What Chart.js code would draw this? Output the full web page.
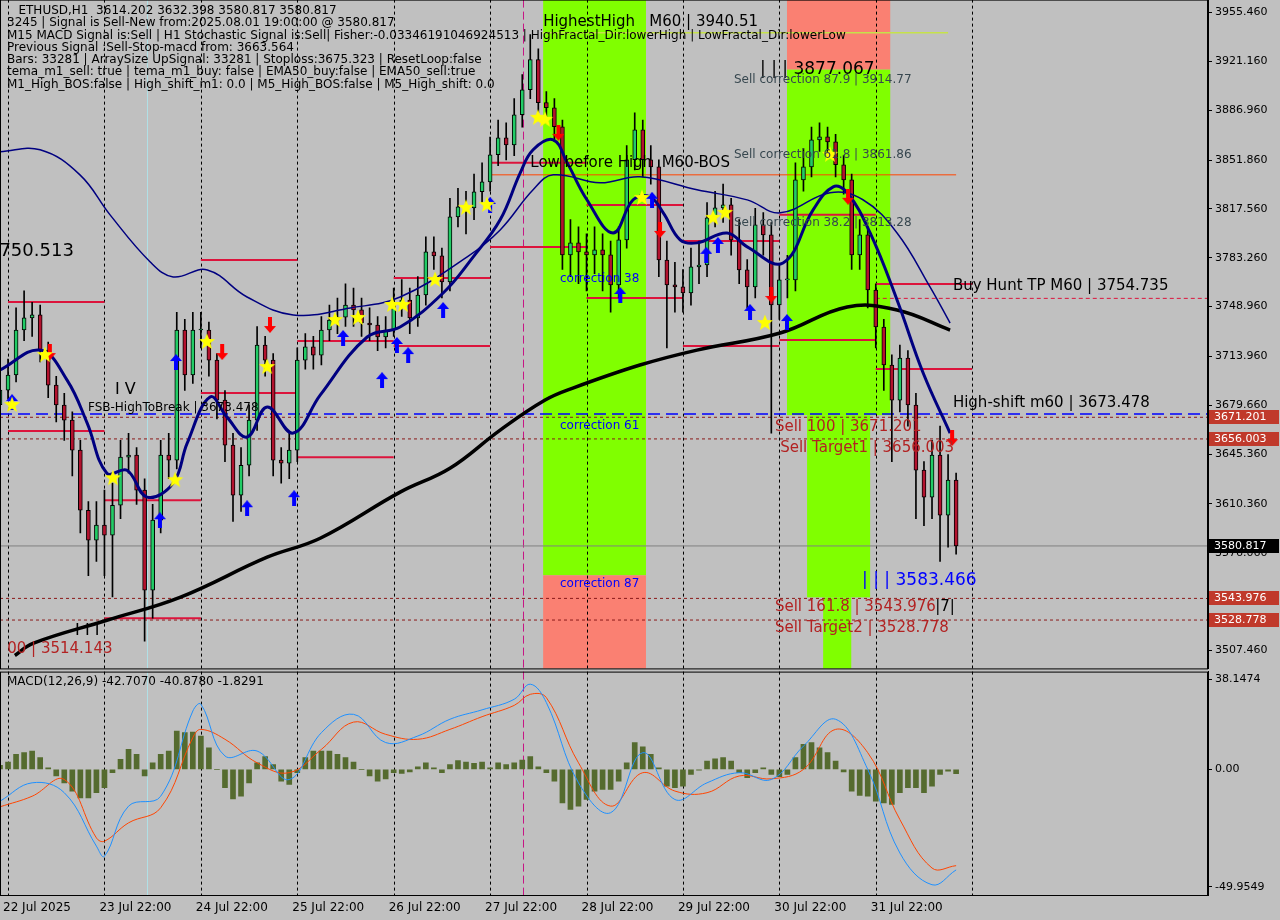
<!DOCTYPE html>
<html>
<head>
<meta charset="utf-8">
<script src="https://cdn.jsdelivr.net/npm/chart.js@4.4.1/dist/chart.umd.min.js"></script>
<style>
  html, body { margin: 0; padding: 0; background: #c0c0c0; }
  #wrap { position: relative; width: 1280px; height: 920px; overflow: hidden; }
  canvas { position: absolute; left: -5px; }
  #main { top: -10px; }
  #macd { top: 662px; }
  #head { position: absolute; left: 7px; top: 4px; font: 12px "DejaVu Sans", sans-serif; color: #000; line-height: 12.3px; white-space: pre; pointer-events: none; }
</style>
</head>
<body>
<div id="wrap">
  <canvas id="main" width="1285" height="688"></canvas>
  <canvas id="macd" width="1285" height="258"></canvas>
  <div id="head">   ETHUSD,H1  3614.202 3632.398 3580.817 3580.817
3245 | Signal is Sell-New from:2025.08.01 19:00:00 @ 3580.817
M15 MACD Signal is:Sell | H1 Stochastic Signal is:Sell| Fisher:-0.03346191046924513 | HighFractal_Dir:lowerHigh | LowFractal_Dir:lowerLow
Previous Signal :Sell-Stop-macd from: 3663.564
Bars: 33281 | ArraySize UpSignal: 33281 | Stoploss:3675.323 | ResetLoop:false
tema_m1_sell: true | tema_m1_buy: false | EMA50_buy:false | EMA50_sell:true
M1_High_BOS:false | High_shift_m1: 0.0 | M5_High_BOS:false | M5_High_shift: 0.0</div>
</div>
<script>
// ---- data (hours counted from 22 Jul 22:00, one bar = 2h) ----
const dayLabels = ['22 Jul 2025', '23 Jul 22:00', '24 Jul 22:00', '25 Jul 22:00', '26 Jul 22:00',
  '27 Jul 22:00', '28 Jul 22:00', '29 Jul 22:00', '30 Jul 22:00', '31 Jul 22:00'];
const dayHours = [0, 24, 48, 72, 96, 120, 144, 168, 192, 216, 240];

const closes = [3690.3, 3700.9, 3732.5, 3741.0, 3743.1, 3718.4, 3693.8, 3679.8, 3669.2, 3648.1,
  3605.9, 3584.8, 3595.4, 3588.3, 3609.4, 3643.2, 3644.6, 3620.0, 3549.7, 3598.9,
  3644.6, 3641.1, 3732.5, 3700.9, 3732.5, 3732.5, 3711.4, 3683.3, 3651.6, 3616.5,
  3637.5, 3669.2, 3722.0, 3711.4, 3641.1, 3639.0, 3648.1, 3711.4, 3720.6, 3714.9,
  3732.5, 3739.5, 3741.6, 3750.1, 3746.6, 3737.4, 3736.0, 3727.6, 3732.5, 3750.1,
  3753.6, 3741.0, 3757.1, 3787.4, 3784.6, 3766.3, 3812.0, 3819.0, 3818.3, 3829.6,
  3836.6, 3855.6, 3867.5, 3862.6, 3883.7, 3901.3, 3922.4, 3892.2, 3888.6, 3875.3,
  3785.3, 3793.7, 3787.4, 3785.3, 3788.8, 3785.3, 3764.2, 3795.8, 3852.1, 3873.2,
  3852.1, 3847.1, 3781.7, 3764.2, 3762.8, 3758.5, 3776.8, 3778.2, 3811.3, 3818.3,
  3820.4, 3795.8, 3774.7, 3762.8, 3806.3, 3799.3, 3750.1, 3767.7, 3767.7, 3838.0,
  3847.1, 3866.1, 3868.2, 3864.7, 3848.6, 3838.0, 3785.3, 3799.3, 3760.6, 3734.6,
  3707.9, 3683.3, 3712.8, 3679.8, 3634.1, 3615.1, 3644.6, 3602.4, 3627.0, 3580.8];
const highs = [3705, 3712, 3748, 3760, 3752, 3750, 3724, 3700, 3688, 3675,
  3655, 3612, 3612, 3620, 3625, 3655, 3660, 3650, 3628, 3610,
  3655, 3660, 3745, 3740, 3745, 3745, 3738, 3716, 3690, 3660,
  3650, 3680, 3735, 3728, 3716, 3650, 3660, 3720, 3730, 3728,
  3742, 3750, 3755, 3765, 3762, 3755, 3748, 3742, 3742, 3762,
  3768, 3762, 3770, 3798, 3798, 3790, 3825, 3832, 3830, 3842,
  3850, 3868, 3880, 3878, 3895, 3912, 3940, 3930, 3900, 3895,
  3880, 3810, 3805, 3800, 3805, 3800, 3795, 3805, 3862, 3885,
  3880, 3862, 3852, 3795, 3780, 3775, 3790, 3795, 3822, 3830,
  3835, 3825, 3810, 3782, 3818, 3815, 3808, 3778, 3785, 3850,
  3860, 3875, 3878, 3875, 3870, 3855, 3842, 3810, 3805, 3765,
  3740, 3715, 3722, 3718, 3688, 3640, 3655, 3665, 3645, 3632];
const lows = [3672, 3684, 3696, 3725, 3728, 3710, 3685, 3668, 3655, 3630,
  3590, 3560, 3570, 3560, 3545, 3600, 3632, 3610, 3514, 3530,
  3590, 3628, 3635, 3690, 3695, 3720, 3700, 3670, 3640, 3598,
  3605, 3630, 3662, 3700, 3630, 3625, 3628, 3640, 3705, 3705,
  3708, 3725, 3730, 3735, 3735, 3728, 3725, 3718, 3720, 3728,
  3742, 3730, 3735, 3750, 3775, 3755, 3760, 3805, 3800, 3810,
  3822, 3830, 3848, 3852, 3855, 3875, 3895, 3885, 3878, 3865,
  3775, 3770, 3765, 3760, 3772, 3760, 3745, 3755, 3790, 3845,
  3840, 3835, 3770, 3720, 3745, 3745, 3750, 3765, 3770, 3805,
  3808, 3785, 3765, 3748, 3755, 3785, 3660, 3740, 3755, 3760,
  3830, 3840, 3858, 3855, 3840, 3828, 3775, 3775, 3748, 3720,
  3690, 3640, 3675, 3665, 3600, 3595, 3600, 3570, 3580, 3575];
const firstOpen = 3680.0;

// moving averages, sampled (hour, price)
const fastH = [-2, 8, 14.7, 19.7, 24.6, 29.6, 34.6, 41.1, 44.6, 50.3, 54.5, 59.5, 64.5, 71, 77.7, 89.4, 97.6, 108.3, 115.8, 122.5,
  127.5, 130.7, 135.7, 139.2, 144.1, 150.6, 155.6, 159.8, 163.1, 167.3, 171.5, 179, 184, 192.9, 200.4, 205.4, 208.9, 214.6, 221.3, 227.8, 234.5];
const fastP = [3704.4, 3718.4, 3697.3, 3667.1, 3631.9, 3634.0, 3615.1, 3624.9, 3653.0, 3685.4, 3671.3, 3657.3, 3678.4, 3660.1, 3686.8, 3727.6, 3734.6, 3758.5, 3783.9, 3809.9,
  3842.9, 3859.1, 3866.1, 3849.9, 3824.0, 3800.7, 3824.0, 3826.1, 3814.8, 3795.8, 3793.7, 3800.7, 3790.9, 3779.6, 3816.9, 3833.1, 3828.9, 3800.7, 3753.6, 3702.3, 3660.1];
const slowH = [-2, 8, 17.9, 25.4, 35.4, 41.1, 49.6, 59.5, 71, 85.2, 97.6, 114.3, 122.5, 130.7, 135.7, 147.4, 157.3, 171.5, 184, 192.2, 204.6, 212.8, 221.3, 229.5, 234.5];
const slowP = [3857.7, 3859.1, 3841.5, 3813.4, 3780.3, 3769.8, 3774.7, 3755.7, 3743.1, 3748.0, 3755.7, 3783.9, 3802.8, 3831.0, 3841.5, 3835.9, 3840.1, 3831.0, 3823.9, 3814.8, 3828.9, 3824.0, 3800.7, 3762.8, 3737.4];
const ma200H = [1.7, 6.2, 24.6, 42.8, 64.5, 77.7, 97.6, 110, 122.5, 133.7, 140.6, 157.3, 171.5, 192.2, 208.9, 221.3, 234.5];
const ma200P = [3503.9, 3512.4, 3528.6, 3544.7, 3572.9, 3586.2, 3618.6, 3635.4, 3662.2, 3683.3, 3691.7, 3707.9, 3718.4, 3730.4, 3748.7, 3746.6, 3732.5];

// daily red levels
const lvlStart = [0, 0, 24, 24, 48, 48, 72, 72, 96, 96, 120, 120, 144, 144, 168, 168, 192, 192, 216, 216];
const lvlEnd = [24, 24, 48, 48, 72, 72, 96, 96, 120, 120, 144, 144, 168, 168, 192, 192, 216, 216, 240, 240];
const lvlPrice = [3752.2, 3661.5, 3613.0, 3530.0, 3781.7, 3688.2, 3643.2, 3724.8, 3769.1, 3721.3,
  3850.0, 3790.9, 3820.4, 3755.0, 3795.1, 3721.3, 3813.4, 3725.5, 3764.9, 3705.1];

// signal markers
const starH = [1, 9.2, 26.1, 41.6, 49.5, 64.5, 81.4, 87.1, 95.6, 98.3, 106.3, 114, 119.2, 131.9, 133.7, 157.8, 175.5, 178.5, 188.4, 204.6];
const starP = [3679.8, 3714.9, 3628.4, 3627.0, 3724.1, 3706.5, 3739.5, 3741.0, 3750.1, 3750.1, 3767.7, 3818.3, 3820.4, 3881.6, 3880.2, 3825.3, 3811.3, 3814.8, 3737.4, 3855.6];
const upH = [1, 37.8, 41.8, 59.5, 71.2, 83.4, 93.1, 96.8, 99.6, 108.3, 120, 152.4, 160.3, 173.8, 176.7, 184.7, 193.9];
const upP = [3681.9, 3598.9, 3710.0, 3607.3, 3614.4, 3726.9, 3697.3, 3722.0, 3714.9, 3746.6, 3820.4, 3757.1, 3824.0, 3785.3, 3792.3, 3745.2, 3738.1];
const downH = [10.4, 53.3, 65.2, 137, 162.3, 190, 209.1, 235];
const downP = [3717, 3717, 3736, 3871, 3802.8, 3757.1, 3826.1, 3656.6];

// MACD
const macdHist = [1.7, 3.1, 6.4, 7.1, 7.8, 5.0, 0.7, -2.8, -5.7, -9.2,
  -12.1, -12.1, -9.9, -7.8, -1.4, 4.3, 8.5, 6.4, -2.8, 2.8,
  6.4, 7.8, 16.3, 15.6, 15.9, 14.2, 9.2, 0, -7.8, -12.5,
  -11.4, -5.7, 2.8, 5.4, 2.1, -5.0, -6.4, -1.4, 5.0, 7.8,
  7.8, 7.8, 6.4, 5.0, 3.1, 0, -2.8, -5.0, -4.0, -1.4,
  -1.7, -1.1, 1.1, 2.8, 0.7, -1.4, 2.1, 3.8, 3.1, 2.6,
  3.1, 0.7, 2.8, 2.1, 2.8, 4.0, 5.4, 1.1, -1.4, -5.0,
  -14.2, -17.0, -15.6, -12.8, -9.2, -8.5, -8.5, -5.0, 2.8, 11.4,
  9.6, 6.4, 0.7, -7.1, -7.8, -7.1, -2.1, -0.3, 3.5, 4.5,
  5.0, 3.5, -1.4, -3.5, -1.4, 0.7, -2.1, -3.1, -2.1, 5.0,
  10.6, 11.4, 9.2, 7.1, 3.5, -1.1, -9.2, -11.1, -11.4, -13.5,
  -14.2, -14.9, -9.9, -7.8, -7.8, -9.9, -7.1, -2.1, -0.7, -1.8];
const macdH = [-2, 6, 14, 22, 24, 30, 38, 46, 48, 54, 62, 70, 78, 86, 94, 102, 110, 118, 126, 130,
  134, 142, 150, 158, 166, 174, 182, 190, 198, 206, 214, 222, 230, 236];
const macdLine = [-13.5, -5.7, -9.9, -32.6, -36.9, -15.6, -11.4, 24.8, 27.7, 5.7, 7.8, -4.3, 15.6, 23.4, 11.4, 14.2, 21.3, 25.3, 29.8, 36.2,
  28.4, -5.7, -18.4, 7.1, -12.8, -5.7, -1.4, -4.3, 9.9, 21.3, 0, -35.5, -49.0, -42.7];
const signalLine = [-15.9, -11.4, -4.3, -29.1, -30.5, -22.7, -16.3, 13.5, 17.0, 12.8, 2.8, -1.4, 8.5, 20.1, 14.9, 12.8, 17.0, 22.4, 27.2, 31.9,
  30.5, 2.8, -15.6, -1.4, -9.2, -9.9, -2.8, -4.0, 0, 17.0, 7.1, -21.3, -41.9, -40.9];

const priceTicks = [3955.460, 3921.160, 3886.960, 3851.860, 3817.560, 3783.260, 3748.960, 3713.960,
  3679.660, 3645.360, 3610.360, 3576.060, 3541.760, 3507.460];
const macdTicks = [38.1474, 0, -49.9549];

// ---- helpers ----
const barH = closes.map((c, i) => i * 2 - 2);
const opens = closes.map((c, i) => i === 0 ? firstOpen : closes[i - 1]);
const X_MIN = -2, X_MAX = 298.7;
const FONT = '"DejaVu Sans", sans-serif';

function pts(hs, vs) { return hs.map((h, i) => ({ x: h, y: vs[i] })); }

function makeStar() {
  const c = document.createElement('canvas'); c.width = c.height = 18;
  const g = c.getContext('2d');
  g.beginPath();
  for (let i = 0; i < 10; i++) {
    const r = i % 2 ? 3.6 : 8.5, a = -Math.PI / 2 + i * Math.PI / 5;
    g.lineTo(9 + r * Math.cos(a), 9 + r * Math.sin(a));
  }
  g.closePath(); g.fillStyle = '#ffff00'; g.fill();
  return c;
}
function makeArrow(color, up) {
  const c = document.createElement('canvas'); c.width = 12; c.height = 16;
  const g = c.getContext('2d');
  if (!up) { g.translate(0, 16); g.scale(1, -1); }
  g.fillStyle = color;
  g.beginPath();
  g.moveTo(6, 0); g.lineTo(12, 7); g.lineTo(8, 7); g.lineTo(8, 16); g.lineTo(4, 16); g.lineTo(4, 7); g.lineTo(0, 7);
  g.closePath(); g.fill();
  return c;
}

const fixedY = { afterFit(s) { s.width = 72; } };

// ---- main price chart ----
const levelSets = lvlPrice.map((p, i) => ({
  type: 'line', data: [{ x: lvlStart[i], y: p }, { x: lvlEnd[i], y: p }],
  borderColor: '#dc143c', borderWidth: 2, pointRadius: 0, order: 5
}));

function hline(p, color, dash, from, to, width) {
  return { type: 'line', data: [{ x: from, y: p }, { x: to, y: p }], borderColor: color, borderWidth: width || 1,
    borderDash: dash, pointRadius: 0, order: 6 };
}

const zones = [
  { h1: 133.2, h2: 158.8, p1: 3560.2, p2: 3970, c: '#80ff00' },
  { h1: 133.2, h2: 158.8, p1: 3490, p2: 3560.2, c: '#fa8072' },
  { h1: 193.9, h2: 219.6, p1: 3915.4, p2: 3970, c: '#fa8072' },
  { h1: 193.9, h2: 219.6, p1: 3672.7, p2: 3915.4, c: '#80ff00' },
  { h1: 198.9, h2: 214.6, p1: 3544.7, p2: 3672.7, c: '#80ff00' },
  { h1: 202.9, h2: 209.9, p1: 3490, p2: 3544.7, c: '#80ff00' }
];

const notes = [
  ['HighestHigh   M60 | 3940.51', 133.2, 3949.1, 15, '#000'],
  ['| | | 3877.067', 187.2, 3915.4, 17, '#000'],
  ['Sell correction 87.9 | 3914.77', 180.7, 3908.3, 12, '#37474f'],
  ['Low before High  M60-BOS', 130, 3850, 15, '#000'],
  ['Sell correction 61.8 | 3861.86', 180.7, 3855.6, 12, '#37474f'],
  ['Sell correction 38.2 | 3813.28', 180.7, 3807.8, 12, '#37474f'],
  ['Buy Hunt TP M60 | 3754.735', 235.2, 3763.5, 15, '#000'],
  ['correction 38', 137.4, 3768.4, 12, '#0000ff'],
  ['correction 61', 137.4, 3665.0, 12, '#0000ff'],
  ['correction 87', 137.4, 3553.9, 12, '#0000ff'],
  ['3750.513', -5, 3788, 18, '#000'],
  ['I V', 26.6, 3690.3, 16, '#000'],
  ['FSB-HighToBreak | 3673.478', 19.9, 3677.7, 12, '#000'],
  ['High-shift m60 | 3673.478', 235.2, 3681.2, 15, '#000'],
  ['Sell 100 | 3671.201', 190.9, 3664.3, 15, '#b22222'],
  ['Sell Target1 | 3656.003', 192.2, 3649.5, 15, '#b22222'],
  ['| | | 3583.466', 212.6, 3556.7, 17, '#0000ff'],
  ['Sell 161.8 | 3543.976', 190.9, 3537.7, 15, '#b22222'],
  ['Sell Target2 | 3528.778', 190.9, 3522.9, 15, '#b22222'],
  ['|7|', 230.8, 3537.7, 15, '#000'],
  ['I I I', 16.7, 3521.5, 16, '#000'],
  ['00 | 3514.143', -0.2, 3508.2, 15, '#b22222']
];

const axisBoxes = [[3671.201, '#c0392b'], [3656.003, '#c0392b'], [3580.817, '#000'], [3543.976, '#c0392b'], [3528.778, '#c0392b']];

function drawVerticals(chart) {
  const g = chart.ctx, a = chart.chartArea, x = chart.scales.x;
  g.save();
  g.strokeStyle = '#000'; g.lineWidth = 1; g.setLineDash([3, 3]);
  dayHours.forEach(h => {
    const px = Math.round(x.getPixelForValue(h)) + 0.5;
    g.beginPath(); g.moveTo(px, a.top); g.lineTo(px, a.bottom); g.stroke();
  });
  g.setLineDash([8, 4]); g.strokeStyle = '#c71585';
  let px = Math.round(x.getPixelForValue(128.2)) + 0.5;
  g.beginPath(); g.moveTo(px, a.top); g.lineTo(px, a.bottom); g.stroke();
  g.setLineDash([]); g.strokeStyle = '#b0e0e6';
  px = Math.round(x.getPixelForValue(34.6)) + 0.5;
  g.beginPath(); g.moveTo(px, a.top); g.lineTo(px, a.bottom); g.stroke();
  g.restore();
}

const mainDecor = {
  id: 'mainDecor',
  beforeDatasetsDraw(chart) {
    const g = chart.ctx, x = chart.scales.x, y = chart.scales.y, a = chart.chartArea;
    g.save();
    g.beginPath(); g.rect(a.left, a.top, a.right - a.left, a.bottom - a.top); g.clip();
    zones.forEach(z => {
      const x1 = x.getPixelForValue(z.h1), x2 = x.getPixelForValue(z.h2);
      const y1 = y.getPixelForValue(z.p2), y2 = y.getPixelForValue(z.p1);
      g.fillStyle = z.c; g.fillRect(x1, y1, x2 - x1, y2 - y1);
    });
    g.restore();
    drawVerticals(chart);
  },
  afterDatasetsDraw(chart) {
    const g = chart.ctx, x = chart.scales.x, y = chart.scales.y, a = chart.chartArea;
    g.save();
    g.beginPath(); g.rect(a.left, a.top, a.right - a.left, a.bottom - a.top); g.clip();
    g.textBaseline = 'middle'; g.textAlign = 'left';
    notes.forEach(n => {
      g.font = n[3] + 'px ' + FONT; g.fillStyle = n[4];
      g.fillText(n[0], x.getPixelForValue(n[1]), y.getPixelForValue(n[2]));
    });
    g.restore();
    g.save();
    g.strokeStyle = '#000'; g.lineWidth = 1;
    g.strokeRect(a.left + 0.5, a.top + 0.5, a.right - a.left - 1, a.bottom - a.top);
    g.font = '11px ' + FONT; g.textBaseline = 'middle';
    axisBoxes.forEach(b => {
      const py = Math.round(y.getPixelForValue(b[0]));
      g.fillStyle = b[1]; g.fillRect(a.right + 1, py - 7, 70, 14);
      g.fillStyle = '#fff'; g.fillText(b[0].toFixed(3), a.right + 6, py);
    });
    g.restore();
  }
};

new Chart(document.getElementById('main'), {
  type: 'bar',
  data: {
    datasets: [
      { type: 'bar', data: barH.map((h, i) => ({ x: h, y: [lows[i], highs[i]] })), backgroundColor: '#000',
        barThickness: 1, order: 4, grouped: false },
      { type: 'bar', data: barH.map((h, i) => ({ x: h, y: [opens[i], closes[i]] })),
        backgroundColor: closes.map((c, i) => c >= opens[i] ? '#22cc66' : '#b3122e'),
        borderColor: '#000', borderWidth: 1, borderSkipped: false, barThickness: 4, minBarLength: 1, order: 3, grouped: false },
      ...levelSets,
      hline(3673.478, '#0000ff', [12, 6], X_MIN, X_MAX, 1.5),
      hline(3671.201, '#8b1a1a', [3, 3], X_MIN, X_MAX),
      hline(3656.003, '#8b1a1a', [3, 3], X_MIN, X_MAX),
      hline(3543.976, '#8b1a1a', [3, 3], X_MIN, X_MAX),
      hline(3528.778, '#8b1a1a', [3, 3], X_MIN, X_MAX),
      hline(3580.817, '#808080', [], X_MIN, X_MAX),
      hline(3754.735, '#dc143c', [4, 3], 216, X_MAX),
      hline(3841.5, '#ff4500', [], 120, 236),
      hline(3941.4, '#c6e24a', [], 133, 234, 1.5),
      { type: 'line', data: pts(slowH, slowP), borderColor: '#000080', borderWidth: 1.5, pointRadius: 0, tension: 0.4, order: 2 },
      { type: 'line', data: pts(fastH, fastP), borderColor: '#000080', borderWidth: 3, pointRadius: 0, tension: 0.4, order: 2 },
      { type: 'line', data: pts(ma200H, ma200P), borderColor: '#000', borderWidth: 3.5, pointRadius: 0, tension: 0.4, order: 2 },
      { type: 'scatter', data: pts(upH, upP), pointStyle: makeArrow('#0000ff', true), order: 1 },
      { type: 'scatter', data: pts(downH, downP), pointStyle: makeArrow('#ff0000', false), order: 1 },
      { type: 'scatter', data: pts(starH, starP), pointStyle: makeStar(), order: 0 }
    ]
  },
  options: {
    responsive: false, animation: false, devicePixelRatio: 1,
    layout: { padding: { top: 0, bottom: 2, left: 5, right: 0 } },
    plugins: { legend: { display: false }, tooltip: { enabled: false } },
    scales: {
      x: { type: 'linear', min: X_MIN, max: X_MAX, offset: false, display: false },
      y: {
        position: 'right', min: 3494.8, max: 3964.6, ...fixedY,
        afterBuildTicks(s) { s.ticks = priceTicks.map(v => ({ value: v })); },
        ticks: { color: '#000', font: { size: 11, family: FONT }, padding: 3, callback: v => v.toFixed(3) },
        grid: { drawOnChartArea: false, drawTicks: true, tickLength: 4, color: '#000' },
        border: { color: '#000' }
      }
    }
  },
  plugins: [mainDecor]
});

// ---- MACD panel ----
const macdDecor = {
  id: 'macdDecor',
  beforeDatasetsDraw(chart) { drawVerticals(chart); },
  afterDraw(chart) {
    const g = chart.ctx, a = chart.chartArea, x = chart.scales.x;
    g.save();
    g.strokeStyle = '#000'; g.lineWidth = 1;
    g.strokeRect(a.left + 0.5, a.top + 0.5, a.right - a.left - 1, a.bottom - a.top);
    g.font = '12px ' + FONT; g.fillStyle = '#000'; g.textBaseline = 'top';
    g.fillText('MACD(12,26,9) -42.7070 -40.8780 -1.8291', a.left + 7, a.top + 4);
    dayLabels.forEach((t, i) => {
      const px = x.getPixelForValue(dayHours[i]);
      g.fillText(t, px - 5, a.bottom + 7);
    });
    g.restore();
  }
};

new Chart(document.getElementById('macd'), {
  type: 'bar',
  data: {
    datasets: [
      { type: 'bar', data: barH.map((h, i) => ({ x: h, y: macdHist[i] })), backgroundColor: '#556b2f', barThickness: 5, order: 3 },
      { type: 'line', data: pts(macdH, signalLine), borderColor: '#ff4500', borderWidth: 1, pointRadius: 0, tension: 0.4, order: 2 },
      { type: 'line', data: pts(macdH, macdLine), borderColor: '#1e90ff', borderWidth: 1, pointRadius: 0, tension: 0.4, order: 1 }
    ]
  },
  options: {
    responsive: false, animation: false, devicePixelRatio: 1,
    layout: { padding: { top: 2, bottom: 25, left: 5, right: 0 } },
    plugins: { legend: { display: false }, tooltip: { enabled: false } },
    scales: {
      x: { type: 'linear', min: X_MIN, max: X_MAX, offset: false, display: false },
      y: {
        position: 'right', min: -53.36, max: 41.55, ...fixedY,
        afterBuildTicks(s) { s.ticks = macdTicks.map(v => ({ value: v })); },
        ticks: { color: '#000', font: { size: 11, family: FONT }, padding: 3, callback: v => v === 0 ? '0.00' : String(v) },
        grid: { drawOnChartArea: false, drawTicks: true, tickLength: 4, color: '#000' },
        border: { color: '#000' }
      }
    }
  },
  plugins: [macdDecor]
});
</script>
</body>
</html>
